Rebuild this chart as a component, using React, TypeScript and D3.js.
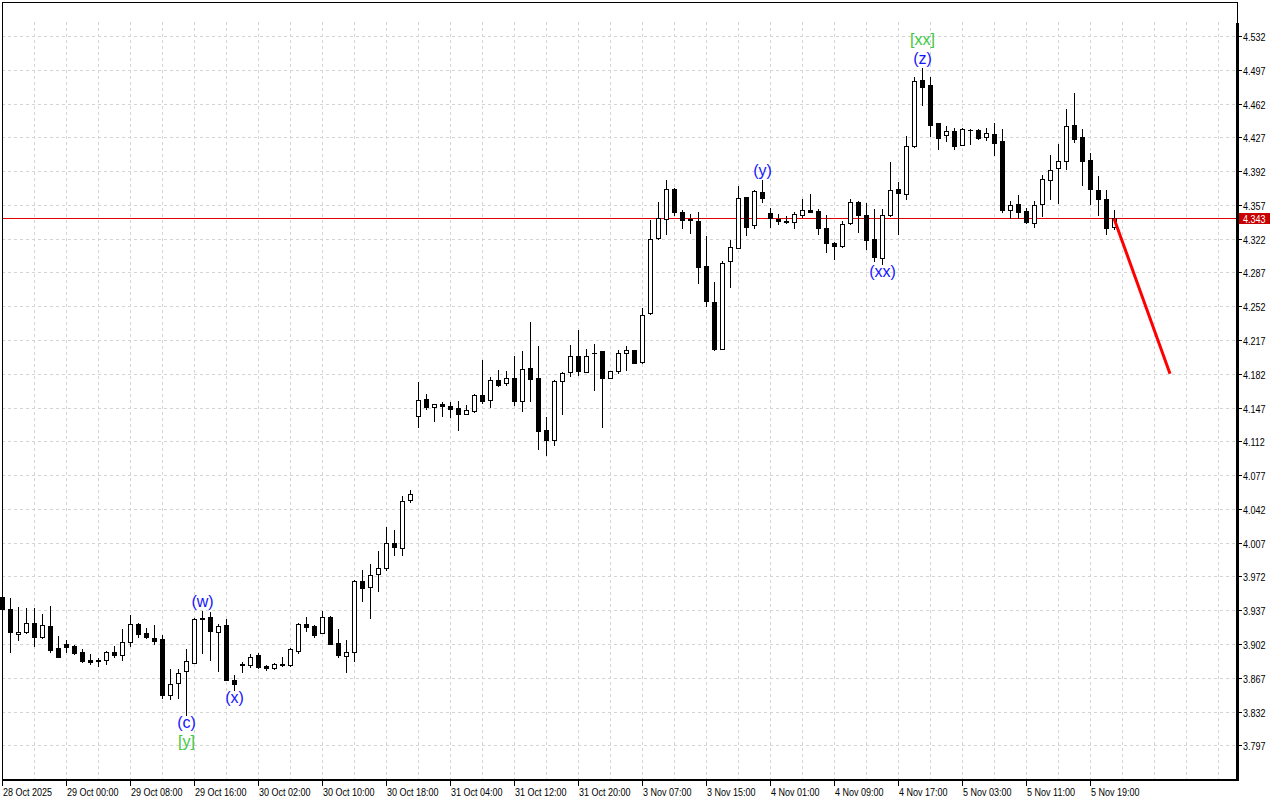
import React from 'react';
import * as d3 from 'd3';

const W = 1280;
const H = 800;

const opens = [3.951,3.938,3.912,3.914,3.924,3.909,3.921,3.898,3.902,3.900,3.894,3.885,3.885,3.885,3.894,3.891,3.904,3.923,3.913,3.908,
3.907,3.849,3.862,3.874,3.882,3.928,3.930,3.914,3.922,3.865,3.880,3.880,3.891,3.879,3.877,3.880,3.880,3.895,3.923,3.921,
3.913,3.930,3.903,3.890,3.894,3.967,3.961,3.974,3.981,4.007,4.001,4.051,4.138,4.156,4.148,4.151,4.149,4.147,4.140,4.143,
4.160,4.155,4.176,4.172,4.178,4.154,4.188,4.178,4.124,4.113,4.175,4.184,4.200,4.184,4.203,4.206,4.178,4.185,4.203,4.207,
4.194,4.245,4.323,4.342,4.373,4.350,4.342,4.340,4.294,4.256,4.208,4.299,4.312,4.365,4.336,4.370,4.349,4.342,4.340,4.339,
4.347,4.352,4.351,4.333,4.318,4.314,4.338,4.360,4.347,4.322,4.302,4.347,4.373,4.368,4.418,4.486,4.481,4.442,4.429,4.434,
4.419,4.435,4.435,4.427,4.430,4.423,4.352,4.358,4.351,4.338,4.358,4.383,4.395,4.402,4.440,4.427,4.404,4.372,4.363,4.334];

const highs = [3.953,3.950,3.940,3.939,3.939,3.933,3.941,3.910,3.906,3.901,3.897,3.892,3.887,3.895,3.900,3.917,3.932,3.924,3.919,3.922,
3.911,3.876,3.876,3.897,3.929,3.936,3.935,3.923,3.928,3.870,3.883,3.892,3.893,3.880,3.882,3.888,3.898,3.924,3.930,3.922,
3.936,3.931,3.917,3.906,3.968,3.979,3.985,3.998,4.023,4.020,4.055,4.062,4.173,4.161,4.151,4.153,4.153,4.154,4.150,4.161,
4.196,4.179,4.186,4.185,4.200,4.206,4.236,4.211,4.137,4.176,4.184,4.212,4.227,4.208,4.213,4.206,4.185,4.207,4.211,4.207,
4.250,4.341,4.360,4.383,4.374,4.352,4.348,4.350,4.325,4.277,4.299,4.321,4.377,4.365,4.372,4.383,4.354,4.348,4.345,4.350,
4.363,4.368,4.353,4.347,4.319,4.340,4.363,4.361,4.359,4.353,4.353,4.401,4.381,4.428,4.490,4.499,4.489,4.442,4.439,4.437,
4.437,4.436,4.436,4.437,4.442,4.436,4.361,4.367,4.354,4.361,4.388,4.409,4.420,4.456,4.473,4.436,4.411,4.387,4.372,4.352];

const lows = [3.935,3.894,3.906,3.913,3.900,3.908,3.894,3.888,3.894,3.892,3.883,3.881,3.879,3.881,3.889,3.885,3.900,3.909,3.908,3.902,
3.846,3.845,3.846,3.828,3.882,3.893,3.885,3.874,3.865,3.854,3.873,3.878,3.877,3.875,3.876,3.879,3.879,3.893,3.915,3.909,
3.913,3.902,3.888,3.873,3.884,3.947,3.929,3.957,3.979,3.994,3.994,4.049,4.127,4.146,4.133,4.138,4.137,4.124,4.140,4.142,
4.152,4.148,4.169,4.170,4.150,4.143,4.154,4.104,4.098,4.108,4.140,4.180,4.181,4.184,4.165,4.127,4.178,4.183,4.186,4.193,
4.193,4.244,4.322,4.327,4.347,4.333,4.328,4.276,4.252,4.207,4.208,4.272,4.312,4.326,4.333,4.360,4.334,4.337,4.338,4.333,
4.344,4.350,4.327,4.308,4.301,4.313,4.337,4.329,4.311,4.299,4.296,4.345,4.327,4.363,4.417,4.460,4.428,4.415,4.423,4.415,
4.419,4.420,4.425,4.424,4.409,4.350,4.343,4.343,4.338,4.334,4.345,4.363,4.359,4.394,4.422,4.378,4.358,4.347,4.327,4.332];

const closes = [3.938,3.914,3.914,3.924,3.909,3.922,3.896,3.888,3.899,3.893,3.884,3.883,3.884,3.894,3.891,3.904,3.923,3.912,3.909,3.905,
3.849,3.861,3.872,3.884,3.928,3.929,3.915,3.921,3.865,3.861,3.881,3.889,3.878,3.877,3.881,3.881,3.897,3.923,3.920,3.911,
3.930,3.902,3.891,3.894,3.967,3.960,3.973,3.981,4.007,4.002,4.050,4.057,4.155,4.148,4.151,4.149,4.146,4.140,4.144,4.160,
4.154,4.176,4.170,4.178,4.154,4.187,4.177,4.123,4.113,4.175,4.183,4.200,4.185,4.200,4.204,4.178,4.185,4.203,4.207,4.193,
4.243,4.322,4.343,4.373,4.350,4.341,4.341,4.293,4.257,4.208,4.297,4.313,4.364,4.334,4.371,4.364,4.343,4.340,4.339,4.348,
4.352,4.350,4.333,4.317,4.314,4.337,4.360,4.347,4.321,4.303,4.347,4.372,4.369,4.418,4.485,4.479,4.440,4.426,4.434,4.418,
4.436,4.435,4.426,4.431,4.421,4.352,4.357,4.350,4.339,4.357,4.384,4.393,4.402,4.439,4.425,4.402,4.373,4.363,4.333,4.343];

const timeLabels = ["28 Oct 2025","29 Oct 00:00","29 Oct 08:00","29 Oct 16:00","30 Oct 02:00","30 Oct 10:00","30 Oct 18:00","31 Oct 04:00","31 Oct 12:00","31 Oct 20:00","3 Nov 07:00","3 Nov 15:00","4 Nov 01:00","4 Nov 09:00","4 Nov 17:00","5 Nov 03:00","5 Nov 11:00","5 Nov 19:00"];

const priceTicks = [4.532,4.497,4.462,4.427,4.392,4.357,4.322,4.287,4.252,4.217,4.182,4.147,4.112,4.077,4.042,4.007,3.972,3.937,3.902,3.867,3.832,3.797];

const currentPrice = 4.343;
const forecastBars = [139, 146];
const forecastPrices = [4.343, 4.182];

const waveBars = [25, 29, 23, 23, 95, 110, 115, 115];
const waveTexts = ["(w)", "(x)", "(c)", "[y]", "(y)", "(xx)", "(z)", "[xx]"];
const waveSide = ["above", "below", "below", "below", "above", "below", "above", "above"];
const waveLevel = [0, 0, 0, 1, 0, 0, 0, 1];
const waveDegree = ["minor", "minor", "minor", "major", "minor", "minor", "minor", "major"];

const FONT = "'Liberation Sans', Arial, sans-serif";
const SX = 0.82;

export default function App() {
  const left = 2, right = 1237, top = 2, bottom = 780;
  const x = d3.scaleLinear().domain([0, 154]).range([2, 1234]);
  const y = d3.scaleLinear().domain([3.797, 4.532]).range([745.3, 36]);
  const px = (v: number) => Math.round(v);

  const vGrid = d3.range(4, 155, 4).map((i) => px(x(i)));
  const candles = opens.map((o, i) => {
    const c = closes[i];
    const cx = px(x(i));
    const yh = px(y(highs[i]));
    const yl = px(y(lows[i]));
    const yt = px(y(Math.max(o, c)));
    const yb = px(y(Math.min(o, c)));
    const bull = c >= o;
    return (
      <g key={i}>
        <line x1={cx + 0.5} x2={cx + 0.5} y1={yh} y2={yl + 1} stroke="#000" strokeWidth={1} />
        {yb - yt < 1 ? (
          <line x1={cx - 2} x2={cx + 3} y1={yt + 0.5} y2={yt + 0.5} stroke="#000" strokeWidth={1} />
        ) : (
          <rect x={cx - 1.5} y={yt + 0.5} width={4} height={yb - yt} fill={bull ? '#fff' : '#000'} stroke="#000" strokeWidth={1} />
        )}
      </g>
    );
  });

  const line = d3.line<number>().x((d, i) => x(forecastBars[i])).y((d) => y(d));

  return (
    <div style={{ position: 'absolute', left: 0, top: 0, width: W, height: H, background: '#fff' }}>
      <svg width={W} height={H} style={{ display: 'block' }}>
        <rect x={0} y={0} width={W} height={H} fill="#fff" />
        {/* grid */}
        <g stroke="#d4d4d4" strokeWidth={1} strokeDasharray="3,3">
          {priceTicks.map((t) => (
            <line key={'h' + t} x1={left} x2={right} y1={px(y(t)) + 0.5} y2={px(y(t)) + 0.5} />
          ))}
          {vGrid.map((gx) => (
            <line key={'v' + gx} x1={gx + 0.5} x2={gx + 0.5} y1={22} y2={bottom - 1} />
          ))}
        </g>
        {/* current price line */}
        <line x1={left} x2={right} y1={px(y(currentPrice)) + 0.5} y2={px(y(currentPrice)) + 0.5} stroke="#e00000" strokeWidth={1} />
        {candles}
        {/* forecast */}
        <path d={line(forecastPrices) || ''} fill="none" stroke="#ff0000" strokeWidth={3} />
        {/* wave labels */}
        {waveTexts.map((t, k) => {
          const b = waveBars[k];
          const cx = x(b) + 0.5;
          let by: number;
          if (waveSide[k] === 'above') {
            by = y(highs[b]) - 4 - waveLevel[k] * 18.5;
          } else {
            by = y(lows[b]) + 13 + waveLevel[k] * 19;
          }
          return (
            <text key={'w' + k} x={cx} y={by} textAnchor="middle" fontFamily={FONT} fontSize={16}
              fill={waveDegree[k] === 'major' ? '#3cc83c' : '#1414ff'}>{t}</text>
          );
        })}
        {/* frame */}
        <line x1={left} x2={right} y1={top + 0.5} y2={top + 0.5} stroke="#000" />
        <line x1={left + 0.5} x2={left + 0.5} y1={top} y2={bottom} stroke="#000" />
        <line x1={right + 0.5} x2={right + 0.5} y1={top} y2={23} stroke="#000" />
        <rect x={right - 1} y={23} width={3} height={bottom - 23 + 1} fill="#000" />
        <rect x={left} y={bottom - 1} width={right - left + 1} height={2} fill="#000" />
        {/* x axis */}
        {timeLabels.map((lab, k) => {
          const tx = px(x(k * 8));
          return (
            <g key={'t' + k}>
              <line x1={tx + 0.5} x2={tx + 0.5} y1={bottom} y2={bottom + 6} stroke="#000" />
              <text transform={`translate(${tx + 1},796) scale(${SX},1)`} fontFamily={FONT} fontSize={11} fill="#000">{lab}</text>
            </g>
          );
        })}
        {/* y axis */}
        {priceTicks.map((t) => (
          <g key={'p' + t}>
            <line x1={right + 1} x2={right + 5} y1={px(y(t)) + 0.5} y2={px(y(t)) + 0.5} stroke="#000" />
            <text transform={`translate(1243,${px(y(t)) + 4.5}) scale(${SX},1)`} fontFamily={FONT} fontSize={11} fill="#000">{t.toFixed(3)}</text>
          </g>
        ))}
        <rect x={1239} y={px(y(currentPrice)) - 5} width={31} height={11} fill="#c80000" />
        <text transform={`translate(1243,${px(y(currentPrice)) + 4.5}) scale(${SX},1)`} fontFamily={FONT} fontSize={11} fill="#fff">{currentPrice.toFixed(3)}</text>
      </svg>
    </div>
  );
}
